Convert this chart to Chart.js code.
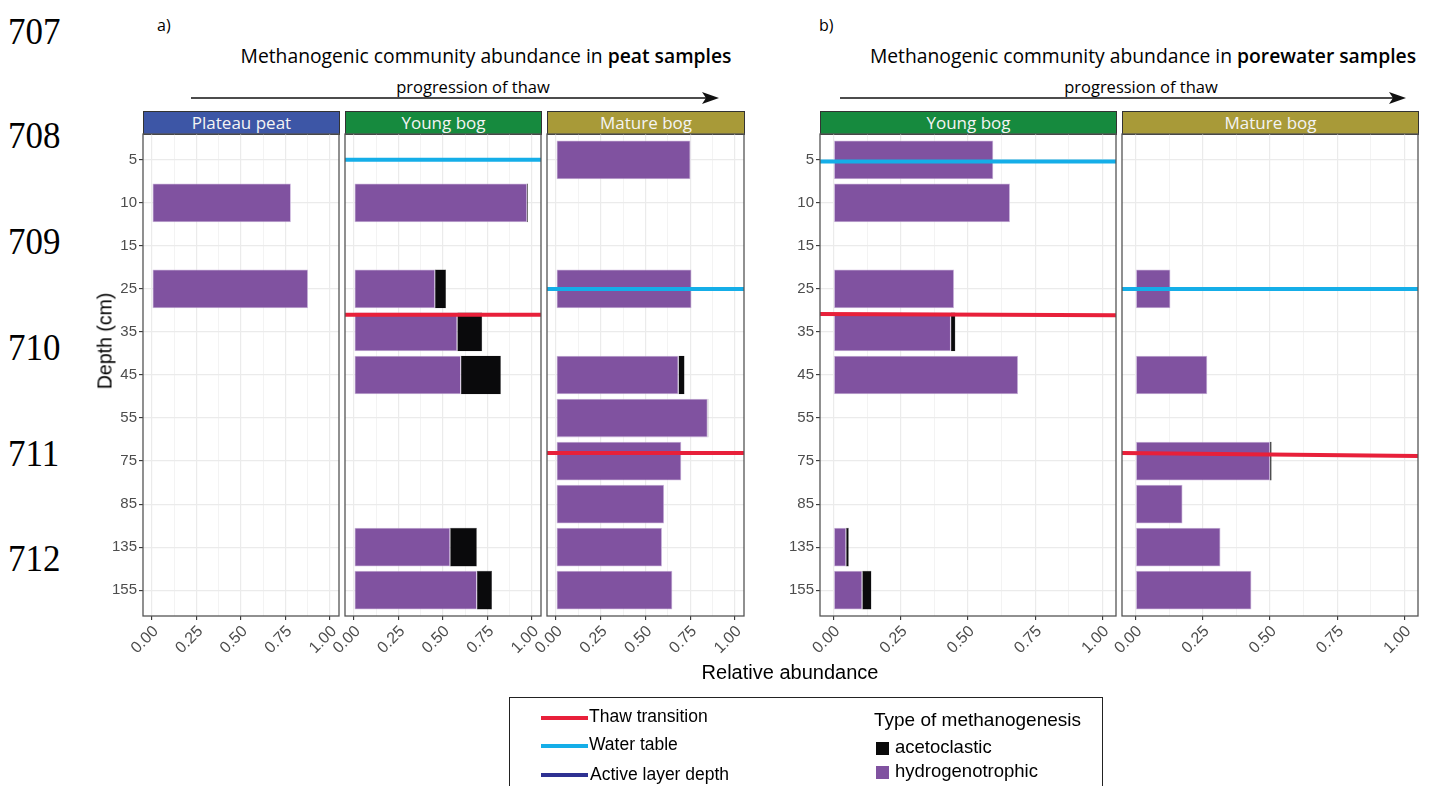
<!DOCTYPE html>
<html><head><meta charset="utf-8">
<script src="https://cdn.jsdelivr.net/npm/chart.js@4.4.0/dist/chart.umd.min.js"></script>
<style>
body{margin:0;background:#fff;}
#page{position:relative;width:1432px;height:786px;overflow:hidden;font-family:'Liberation Sans',Arial,sans-serif;color:#000;}
.t{position:absolute;white-space:nowrap;}
.c{transform:translate(-50%,-50%);}
.lv{transform:translate(0,-50%);}
.num{font-family:'Liberation Serif',serif;font-size:38px;transform:translate(0,-50%) scaleX(0.92);transform-origin:0 50%;}
.my{font-family:'Open Sans',sans-serif;}
.strip{position:absolute;box-sizing:border-box;border:1px solid #333;color:#f4f4f4;font-family:'Open Sans',sans-serif;font-size:17px;text-align:center;line-height:21px;top:111px;height:24px;}
canvas{position:absolute;}
</style></head>
<body><div id="page">
<div class="t num" style="left:8px;top:31px">707</div>
<div class="t num" style="left:8px;top:135px">708</div>
<div class="t num" style="left:8px;top:241px">709</div>
<div class="t num" style="left:8px;top:347px">710</div>
<div class="t num" style="left:8px;top:453px">711</div>
<div class="t num" style="left:8px;top:558px">712</div>

<div class="t my lv" style="left:157px;top:25px;font-size:16px">a)</div>
<div class="t my lv" style="left:819px;top:25px;font-size:16px">b)</div>
<div class="t my c" style="left:486px;top:55px;font-size:19.3px">Methanogenic community abundance in <span style="font-weight:600">peat samples</span></div>
<div class="t my c" style="left:1143px;top:55px;font-size:19.3px">Methanogenic community abundance in <span style="font-weight:600">porewater samples</span></div>
<div class="t my c" style="left:473px;top:86px;font-size:16.5px">progression of thaw</div>
<div class="t my c" style="left:1141px;top:86px;font-size:16.5px">progression of thaw</div>
<svg class="t" style="left:0;top:0" width="1432" height="786">
  <line x1="191" y1="98" x2="708" y2="98" stroke="#111" stroke-width="1.6"/>
  <polygon points="702,92 719,98 702,104 706,98" fill="#111"/>
  <line x1="840" y1="98" x2="1395" y2="98" stroke="#111" stroke-width="1.6"/>
  <polygon points="1389,92 1406,98 1389,104 1393,98" fill="#111"/>
</svg>

<div class="strip" style="left:143px;width:197px;background:#3d56a6">Plateau peat</div>
<div class="strip" style="left:345px;width:197px;background:#168a3e">Young bog</div>
<div class="strip" style="left:547px;width:198px;background:#a89a38">Mature bog</div>
<div class="strip" style="left:820px;width:297px;background:#168a3e">Young bog</div>
<div class="strip" style="left:1122px;width:297px;background:#a89a38">Mature bog</div>

<canvas id="p1"></canvas><canvas id="p2"></canvas><canvas id="p3"></canvas><canvas id="p4"></canvas><canvas id="p5"></canvas>

<div class="t c" style="left:105px;top:341px;font-size:19.5px;transform:translate(-50%,-50%) rotate(-90deg)">Depth (cm)</div>
<div class="t c" style="left:790px;top:672px;font-size:20px">Relative abundance</div>

<div class="t" style="left:509px;top:697px;width:594px;height:120px;border:1.5px solid #222;box-sizing:border-box"></div>
<svg class="t" style="left:0;top:0" width="1432" height="786">
  <line x1="541" y1="718" x2="588" y2="718" stroke="#e8203a" stroke-width="4"/>
  <line x1="541" y1="746" x2="588" y2="746" stroke="#15aee8" stroke-width="4"/>
  <line x1="541" y1="775" x2="588" y2="775" stroke="#2e3192" stroke-width="4"/>
  <rect x="876" y="742" width="13" height="13" fill="#0a0a0a"/>
  <rect x="876" y="766" width="13" height="13" fill="#8052a0"/>
</svg>
<div class="t lv" style="left:589px;top:716px;font-size:17.5px">Thaw transition</div>
<div class="t lv" style="left:589px;top:744px;font-size:17.5px">Water table</div>
<div class="t lv" style="left:590px;top:774px;font-size:17.5px">Active layer depth</div>
<div class="t lv" style="left:874px;top:720px;font-size:19px">Type of methanogenesis</div>
<div class="t lv" style="left:895px;top:747px;font-size:18.5px">acetoclastic</div>
<div class="t lv" style="left:895px;top:771px;font-size:18.5px">hydrogenotrophic</div>
</div>
<script>
// ---- data ----
const depths = ['5','10','15','25','35','45','55','75','85','135','155'];
const xTickValues = [0, 0.125, 0.25, 0.375, 0.5, 0.625, 0.75, 0.875, 1];
const seriesNames = ['hydrogenotrophic', 'acetoclastic'];
// peat samples
const peatPlateauHydro = [null, 0.78, null, 0.876, null, null, null, null, null, null, null];
const peatPlateauAceto = [null, null, null, null, null, null, null, null, null, null, null];
const peatYoungHydro   = [0.003, 0.972, null, 0.455, 0.58, 0.60, null, null, null, 0.54, 0.69];
const peatYoungAceto   = [null, 0.005, null, 0.062, 0.14, 0.225, null, null, null, 0.15, 0.085];
const peatMatureHydro  = [0.751, null, 0.003, 0.757, null, 0.684, 0.847, 0.70, 0.604, 0.592, 0.65];
const peatMatureAceto  = [null, null, null, null, null, 0.034, 0.004, null, null, null, null];
// porewater samples
const poreYoungHydro   = [0.594, 0.656, null, 0.448, 0.436, 0.686, null, null, null, 0.047, 0.107];
const poreYoungAceto   = [null, null, null, null, 0.017, null, null, null, null, 0.01, 0.034];
const poreMatureHydro  = [null, null, null, 0.13, null, 0.267, null, 0.50, 0.175, 0.316, 0.431];
const poreMatureAceto  = [null, null, null, null, null, null, null, 0.006, null, null, null];
// reference lines, as depth-category positions (index into depths), per panel
const waterTableLine = [null, 0, 3, 0.04, 3];
const thawLineStart  = [null, 3.60, 6.81, 3.58, 6.81];
const thawLineEnd    = [null, 3.60, 6.81, 3.61, 6.88];

// ---- drawing ----
Chart.defaults.font.family = "'Liberation Sans', Arial, sans-serif";
Chart.defaults.animation = false;

const PURPLE = '#8052a0', BLACK = '#0a0a0c';
const toPoints = arr => arr.map((v, i) => v === null ? null : {x: v, y: i}).filter(p => p);

const decor = {
  id: 'decor',
  afterDatasetsDraw(chart, args, opts) {
    const {ctx, chartArea: a, scales: {y}} = chart;
    ctx.save();
    ctx.lineWidth = 4;
    ctx.lineCap = 'butt';
    if (opts.thawStart !== null && opts.thawStart !== undefined) {
      ctx.strokeStyle = '#e8203a';
      ctx.beginPath();
      ctx.moveTo(a.left, y.getPixelForValue(opts.thawStart));
      ctx.lineTo(a.right, y.getPixelForValue(opts.thawEnd));
      ctx.stroke();
    }
    if (opts.water !== null && opts.water !== undefined) {
      ctx.strokeStyle = '#15aee8';
      ctx.beginPath();
      const py = y.getPixelForValue(opts.water);
      ctx.moveTo(a.left, py);
      ctx.lineTo(a.right, py);
      ctx.stroke();
    }
    ctx.restore();
  },
  afterDraw(chart) {
    const {ctx, chartArea: a} = chart;
    ctx.save();
    ctx.strokeStyle = '#555';
    ctx.lineWidth = 1.3;
    ctx.strokeRect(a.left, a.top, a.right - a.left, a.bottom - a.top);
    ctx.restore();
  }
};

const panels = [
  {id: 'p1', left: 143, width: 196, showY: true,  hydro: peatPlateauHydro, aceto: peatPlateauAceto, k: 0},
  {id: 'p2', left: 345, width: 196, showY: false, hydro: peatYoungHydro,   aceto: peatYoungAceto,   k: 1},
  {id: 'p3', left: 547, width: 197, showY: false, hydro: peatMatureHydro,  aceto: peatMatureAceto,  k: 2},
  {id: 'p4', left: 820, width: 296, showY: true,  hydro: poreYoungHydro,   aceto: poreYoungAceto,   k: 3},
  {id: 'p5', left: 1122, width: 296, showY: false, hydro: poreMatureHydro, aceto: poreMatureAceto,  k: 4},
];

const TOP = 132, PADTOP = 2, PLOTH = 482, XAXH = 56, PADR = 4;

panels.forEach(p => {
  const L = p.showY ? 50 : 28;
  const cv = document.getElementById(p.id);
  cv.width = L + p.width + PADR;
  cv.height = PADTOP + PLOTH + XAXH;
  cv.style.left = (p.left - L) + 'px';
  cv.style.top = TOP + 'px';
  const isMajor = v => Math.abs(v * 4 - Math.round(v * 4)) < 1e-6;
  new Chart(cv, {
    type: 'bar',
    data: {
      datasets: [
        {label: seriesNames[0], data: toPoints(p.hydro), backgroundColor: PURPLE,
         borderColor: '#cdb8de', borderWidth: 0.8, borderSkipped: false},
        {label: seriesNames[1], data: toPoints(p.aceto), backgroundColor: BLACK,
         borderColor: '#444', borderWidth: 0.4, borderSkipped: false}
      ]
    },
    options: {
      responsive: false,
      indexAxis: 'y',
      categoryPercentage: 0.9,
      barPercentage: 1,
      layout: {padding: {left: 0, right: PADR, top: PADTOP, bottom: 0}, autoPadding: false},
      plugins: {
        legend: {display: false}, tooltip: {enabled: false},
        decor: {water: waterTableLine[p.k], thawStart: thawLineStart[p.k], thawEnd: thawLineEnd[p.k]}
      },
      scales: {
        x: {
          type: 'linear', stacked: true, min: -0.05, max: 1.05, offset: false,
          afterBuildTicks: s => { s.ticks = xTickValues.map(v => ({value: v})); },
          afterFit: s => { s.height = XAXH; s.paddingLeft = 0; s.paddingRight = 0; },
          border: {display: false},
          grid: {
            offset: false,
            color: '#ebebeb',
            lineWidth: c => isMajor(c.tick.value) ? 1.2 : 0.6,
            tickColor: c => isMajor(c.tick.value) ? '#333' : 'rgba(0,0,0,0)',
            tickLength: 4, tickWidth: 1.1
          },
          ticks: {
            autoSkip: false, minRotation: 45, maxRotation: 45, padding: 2, labelOffset: 4,
            color: '#4d4d4d', font: {size: 16},
            callback: v => isMajor(v) ? v.toFixed(2) : ''
          }
        },
        y: {
          type: 'linear', stacked: true, reverse: true, min: -0.6, max: 10.6, offset: false,
          afterBuildTicks: s => { s.ticks = depths.map((d, i) => ({value: i})); },
          afterFit: s => { s.width = L; s.paddingTop = 0; s.paddingBottom = 0; },
          border: {display: false},
          grid: {offset: false, color: '#ebebeb', lineWidth: 1.2, drawTicks: p.showY, tickColor: '#333', tickLength: 4, tickWidth: 1.1},
          ticks: {display: p.showY, autoSkip: false, padding: 2, color: '#4d4d4d', font: {size: 15},
                  callback: v => depths[Math.round(v)]}
        }
      }
    },
    plugins: [decor]
  });
});
</script>
</body></html>
